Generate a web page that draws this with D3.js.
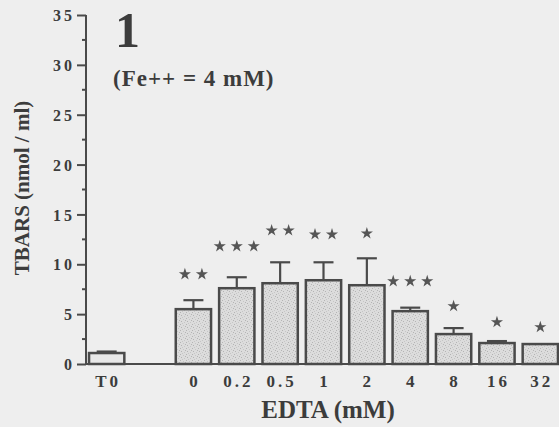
<!DOCTYPE html>
<html>
<head>
<meta charset="utf-8">
<script src="https://cdn.jsdelivr.net/npm/d3@7"></script>
<style>
  html, body { margin: 0; padding: 0; background: #eeeeee; }
  svg { display: block; }
  text { font-family: "Liberation Serif", "Times New Roman", serif; font-weight: bold; fill: #3c3c3c; }
</style>
</head>
<body>
<svg id="chart" width="559" height="427"></svg>
<script>
// data
const groups = ["T0", "gap", "0", "0.2", "0.5", "1", "2", "4", "8", "16", "32"];
const means  = [1.1, null, 5.5, 7.6, 8.1, 8.4, 7.9, 5.3, 3.0, 2.1, 2.0];
const sems   = [0.15, null, 0.9, 1.1, 2.1, 1.8, 2.7, 0.35, 0.6, 0.2, 0];
const stars  = [0, 0, 2, 3, 2, 2, 1, 3, 1, 1, 1];
const starAt = [0, 0, 9.0, 11.8, 13.4, 13.0, 13.1, 8.3, 5.8, 4.2, 3.7];
const yTicks = [0, 5, 10, 15, 20, 25, 30, 35];

const svg = d3.select("#chart");
const ink = "#4a4a4a";

// stipple texture for the bars
const defs = svg.append("defs");
const pat = defs.append("pattern")
  .attr("id", "stip")
  .attr("patternUnits", "userSpaceOnUse")
  .attr("width", 6).attr("height", 6);
pat.append("rect").attr("width", 6).attr("height", 6).attr("fill", "#dcdcdc");
[[0, 0], [3, 1], [1, 3], [4, 4], [5, 2], [2, 5]].forEach(function(p, i) {
  pat.append("rect")
    .attr("x", p[0]).attr("y", p[1])
    .attr("width", 1).attr("height", 1)
    .attr("fill", i % 2 == 0 ? "#b4b4b4" : "#c6c6c6");
});

const x = d3.scaleBand().domain(groups).range([85, 562])
  .paddingInner(0.14).paddingOuter(0.07);
const y = d3.scaleLinear().domain([0, 35]).range([364, 15]);

// y axis
const yAxis = svg.append("g").attr("transform", "translate(86,0)")
  .call(d3.axisLeft(y).tickValues(yTicks).tickSize(9).tickPadding(5));
yAxis.select(".domain").attr("stroke", ink).attr("stroke-width", 2)
  .attr("d", `M0,${y(0)}V${y(35)}`);
yAxis.selectAll(".tick line").attr("stroke", ink).attr("stroke-width", 2);
yAxis.selectAll(".tick text")
  .attr("fill", "#3c3c3c")
  .style("font-size", "16px")
  .style("letter-spacing", "3px")
  .attr("dx", "3px")
  .attr("dy", "0.35em");

// minor ticks
svg.append("g").selectAll("line")
  .data(d3.range(2.5, 35, 5))
  .join("line")
  .attr("x1", 82).attr("x2", 86)
  .attr("y1", d => y(d)).attr("y2", d => y(d))
  .attr("stroke", ink).attr("stroke-width", 2);

// x axis
const xAxis = svg.append("g").attr("transform", `translate(0,${y(0)})`)
  .call(d3.axisBottom(x).tickSize(0).tickPadding(11)
    .tickFormat(d => d == "gap" ? "" : d));
xAxis.select(".domain").attr("stroke", ink).attr("stroke-width", 2)
  .attr("d", "M86,0H559");
xAxis.selectAll(".tick text")
  .attr("fill", "#3c3c3c")
  .style("font-size", "17px")
  .style("letter-spacing", "3px")
  .attr("dx", "1.5px");

const rows = groups.map((g, i) => ({ g: g, m: means[i], e: sems[i], s: stars[i], sy: starAt[i] }))
  .filter(d => d.m !== null);

// error bars (drawn first so the bar outline covers the stem)
const err = svg.append("g").selectAll("g")
  .data(rows.filter(d => d.e > 0))
  .join("g")
  .attr("stroke", ink).attr("stroke-width", 2.2);
err.append("line")
  .attr("x1", d => x(d.g) + x.bandwidth() / 2)
  .attr("x2", d => x(d.g) + x.bandwidth() / 2)
  .attr("y1", d => y(d.m)).attr("y2", d => y(d.m + d.e));
err.append("line")
  .attr("x1", d => x(d.g) + x.bandwidth() / 2 - 10)
  .attr("x2", d => x(d.g) + x.bandwidth() / 2 + 10)
  .attr("y1", d => y(d.m + d.e)).attr("y2", d => y(d.m + d.e));

// bars
svg.append("g").selectAll("rect")
  .data(rows)
  .join("rect")
  .attr("x", d => x(d.g) + 1)
  .attr("width", x.bandwidth() - 2)
  .attr("y", d => y(d.m))
  .attr("height", d => y(0) - y(d.m))
  .attr("fill", d => d.g == "T0" ? "#e8e8e8" : "url(#stip)")
  .attr("stroke", ink).attr("stroke-width", 2.5);

// significance stars
const star = d3.symbol().type(d3.symbolStar).size(46);
svg.append("g").selectAll("path")
  .data(rows.flatMap(d => d3.range(d.s).map(k => ({ d: d, k: k }))))
  .join("path")
  .attr("d", star)
  .attr("fill", "#555555")
  .attr("transform", o => {
    const cx = x(o.d.g) + x.bandwidth() / 2 + (o.k - (o.d.s - 1) / 2) * 17;
    return `translate(${cx},${y(o.d.sy)})`;
  });

// titles
svg.append("text").attr("x", 115).attr("y", 47)
  .style("font-size", "50px").text("1");
svg.append("text").attr("x", 113).attr("y", 86)
  .style("font-size", "23px").style("letter-spacing", "1px")
  .text("(Fe++ = 4 mM)");
svg.append("text")
  .attr("transform", "translate(29,188) rotate(-90)")
  .attr("text-anchor", "middle")
  .style("font-size", "21px")
  .text("TBARS (nmol / ml)");
svg.append("text").attr("x", 328).attr("y", 418)
  .attr("text-anchor", "middle")
  .style("font-size", "25px")
  .text("EDTA (mM)");
</script>
</body>
</html>
